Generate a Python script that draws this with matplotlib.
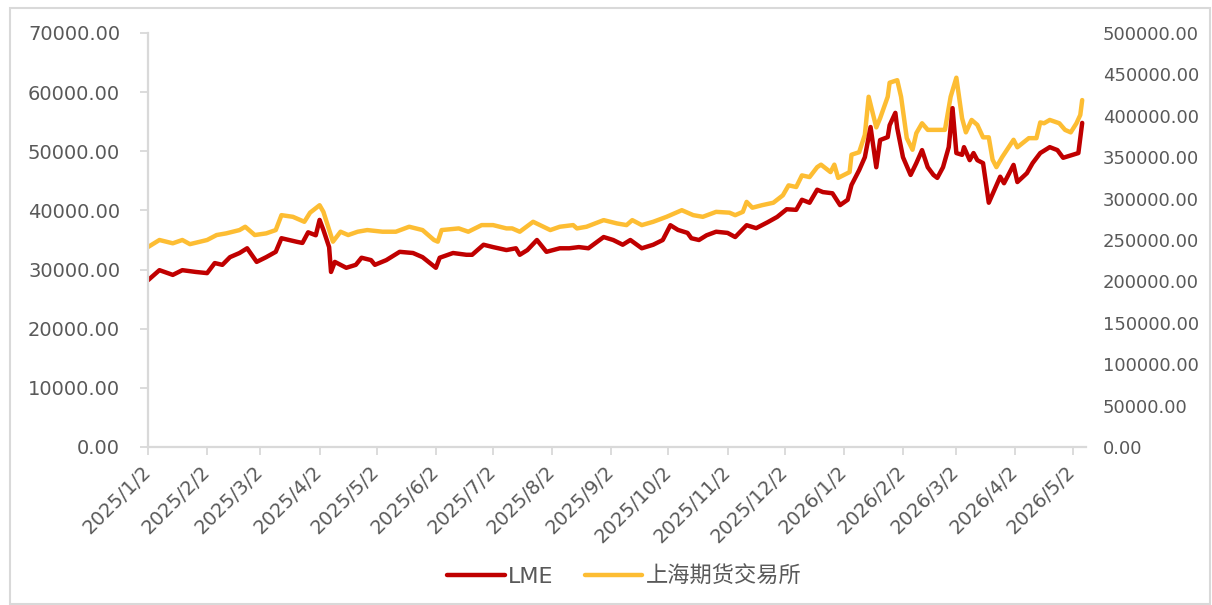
import matplotlib
matplotlib.use("Agg")
import matplotlib.pyplot as plt
import pandas as pd
from matplotlib.patches import Rectangle

# ---------------- DATA ----------------
lme_dates = ["2025-01-02","2025-01-08","2025-01-15","2025-01-20","2025-01-27","2025-02-02","2025-02-06",
    "2025-02-10","2025-02-14","2025-02-19","2025-02-23","2025-02-28","2025-03-05","2025-03-10","2025-03-13",
    "2025-03-21","2025-03-24","2025-03-27","2025-03-31","2025-04-02","2025-04-04","2025-04-07","2025-04-08",
    "2025-04-10","2025-04-16","2025-04-21","2025-04-24","2025-04-29","2025-05-01","2025-05-07","2025-05-14",
    "2025-05-21","2025-05-26","2025-06-02","2025-06-04","2025-06-11","2025-06-18","2025-06-21","2025-06-27",
    "2025-07-02","2025-07-09","2025-07-14","2025-07-16","2025-07-20","2025-07-25","2025-07-30","2025-08-06",
    "2025-08-11","2025-08-16","2025-08-21","2025-08-29","2025-09-03","2025-09-08","2025-09-12","2025-09-18",
    "2025-09-24","2025-09-29","2025-10-03","2025-10-07","2025-10-12","2025-10-14","2025-10-18","2025-10-22",
    "2025-10-27","2025-11-02","2025-11-06","2025-11-12","2025-11-17","2025-11-23","2025-11-28","2025-12-03",
    "2025-12-08","2025-12-11","2025-12-15","2025-12-19","2025-12-22","2025-12-27","2025-12-31","2026-01-04",
    "2026-01-06","2026-01-10","2026-01-13","2026-01-16","2026-01-19","2026-01-21","2026-01-25","2026-01-26",
    "2026-01-29","2026-01-30","2026-02-02","2026-02-06","2026-02-09","2026-02-12","2026-02-15","2026-02-18",
    "2026-02-20","2026-02-23","2026-02-26","2026-02-28","2026-03-02","2026-03-05","2026-03-06","2026-03-09",
    "2026-03-11","2026-03-13","2026-03-16","2026-03-19","2026-03-22","2026-03-25","2026-03-27","2026-04-01",
    "2026-04-03","2026-04-08","2026-04-11","2026-04-15","2026-04-20","2026-04-24","2026-04-27","2026-05-02",
    "2026-05-05","2026-05-07"]
lme_values = [28200,29900,29100,29900,29600,29400,31100,
    30800,32100,32800,33600,31300,32100,33000,35300,
    34700,34500,36300,35800,38400,36700,33800,29600,
    31300,30300,30800,32000,31600,30800,31600,33000,
    32800,32100,30300,32000,32800,32500,32500,34200,
    33800,33300,33600,32500,33300,35000,33000,33600,
    33600,33800,33600,35500,35000,34200,35000,33600,
    34200,35000,37500,36700,36200,35300,35000,35800,
    36400,36200,35500,37500,37000,38000,38900,40200,
    40100,41800,41300,43500,43100,42900,40900,41800,
    44300,46800,49000,54100,47300,51900,52400,54400,
    56500,53900,49000,46000,48000,50200,47300,46000,
    45500,47300,50700,57300,49700,49400,50700,48500,
    49700,48500,48000,41300,43500,45700,44600,47700,
    44800,46300,48000,49700,50700,50200,48900,49400,
    49700,54800]

shfe_dates = ["2025-01-02","2025-01-08","2025-01-15","2025-01-20","2025-01-24","2025-02-02","2025-02-07",
    "2025-02-12","2025-02-19","2025-02-22","2025-02-27","2025-03-05","2025-03-10","2025-03-13","2025-03-19",
    "2025-03-25","2025-03-28","2025-04-02","2025-04-04","2025-04-09","2025-04-13","2025-04-17","2025-04-22",
    "2025-04-27","2025-05-05","2025-05-12","2025-05-19","2025-05-26","2025-06-01","2025-06-03","2025-06-05",
    "2025-06-14","2025-06-19","2025-06-26","2025-07-02","2025-07-09","2025-07-12","2025-07-16","2025-07-23",
    "2025-08-01","2025-08-06","2025-08-13","2025-08-15","2025-08-20","2025-08-29","2025-09-05","2025-09-10",
    "2025-09-13","2025-09-18","2025-09-24","2025-10-01","2025-10-09","2025-10-15","2025-10-20","2025-10-27",
    "2025-11-03","2025-11-06","2025-11-10","2025-11-12","2025-11-15","2025-11-20","2025-11-26","2025-12-01",
    "2025-12-04","2025-12-08","2025-12-11","2025-12-15","2025-12-19","2025-12-21","2025-12-26","2025-12-28",
    "2025-12-30","2026-01-05","2026-01-06","2026-01-10","2026-01-13","2026-01-15","2026-01-19","2026-01-21",
    "2026-01-25","2026-01-26","2026-01-30","2026-02-01","2026-02-04","2026-02-07","2026-02-09","2026-02-12",
    "2026-02-15","2026-02-21","2026-02-24","2026-02-27","2026-03-02","2026-03-05","2026-03-07","2026-03-10",
    "2026-03-13","2026-03-16","2026-03-19","2026-03-21","2026-03-23","2026-03-26","2026-04-01","2026-04-03",
    "2026-04-09","2026-04-13","2026-04-15","2026-04-17","2026-04-20","2026-04-25","2026-04-28","2026-05-01",
    "2026-05-04","2026-05-06","2026-05-07"]
shfe_values = [241500,250000,246000,250000,245000,250000,256000,
    258000,262000,266000,256000,258000,262000,280000,278000,
    272000,283000,292000,284000,248000,260000,256000,260000,
    262000,260000,260000,266000,262000,250000,248000,262000,
    264000,260000,268000,268000,264000,264000,260000,272000,
    262000,266000,268000,264000,266000,274000,270000,268000,
    274000,268000,272000,278000,286000,280000,278000,284000,
    283000,280000,284000,296000,289000,292000,295000,304000,
    316000,314000,328000,326000,338000,341000,332000,341000,
    325000,332000,353000,356000,377000,423000,386000,397000,
    423000,440000,443000,423000,373000,359000,379000,391000,
    383000,383000,383000,423000,446000,397000,380000,395000,
    389000,374000,374000,347000,338000,350000,371000,362000,
    373000,373000,392000,391000,395000,391000,383000,380000,
    391000,401000,419000]

tick_dates = ["2025-01-02","2025-02-02","2025-03-02","2025-04-02","2025-05-02","2025-06-02","2025-07-02",
    "2025-08-02","2025-09-02","2025-10-02","2025-11-02","2025-12-02","2026-01-02","2026-02-02","2026-03-02",
    "2026-04-02","2026-05-02"]
tick_labels = ["2025/1/2","2025/2/2","2025/3/2","2025/4/2","2025/5/2","2025/6/2","2025/7/2","2025/8/2",
    "2025/9/2","2025/10/2","2025/11/2","2025/12/2","2026/1/2","2026/2/2","2026/3/2","2026/4/2","2026/5/2"]
left_ticks = [0, 10000, 20000, 30000, 40000, 50000, 60000, 70000]
right_ticks = [0, 50000, 100000, 150000, 200000, 250000, 300000, 350000, 400000, 450000, 500000]
series_names = ["LME", "上海期货交易所"]

# ---------------- PLOT ----------------
plt.rcParams['font.family'] = ['DejaVu Sans', 'Noto Sans CJK SC']
TXT = '#595959'
SP = '#D9D9D9'

fig = plt.figure(figsize=(12.12, 6.05), dpi=100)
ax = fig.add_axes([148/1212, 1-447/605, (1086-148)/1212, (447-33)/605])
ax2 = ax.twinx()

ld = pd.to_datetime(lme_dates)
sd = pd.to_datetime(shfe_dates)
l1, = ax.plot(ld, lme_values, color='#C00000', lw=3.2, solid_capstyle='round', solid_joinstyle='round', label=series_names[0])
l2, = ax2.plot(sd, shfe_values, color='#FDBD33', lw=3.2, solid_capstyle='round', solid_joinstyle='round', label=series_names[1])

ax.set_zorder(ax2.get_zorder() + 1)
ax.patch.set_visible(False)

ax.set_ylim(0, 70000)
ax2.set_ylim(0, 500000)
ax.set_xlim(pd.Timestamp("2025-01-02"), pd.Timestamp("2026-05-09"))

ax.set_yticks(left_ticks)
ax.set_yticklabels([f"{v:.2f}" for v in left_ticks])
ax2.set_yticks(right_ticks)
ax2.set_yticklabels([f"{v:.2f}" for v in right_ticks])

ax.set_xticks(pd.to_datetime(tick_dates))
ax.set_xticklabels(tick_labels, rotation=45, ha='right', va='center', rotation_mode='anchor')

for a in (ax, ax2):
    for s in a.spines.values():
        s.set_visible(False)
ax.spines['left'].set_visible(True)
ax.spines['bottom'].set_visible(True)
ax.spines['left'].set_color(SP)
ax.spines['bottom'].set_color(SP)
ax.spines['left'].set_linewidth(1.6)
ax.spines['bottom'].set_linewidth(1.6)

ax.tick_params(axis='y', direction='out', length=6, width=1.3, color=SP, labelcolor=TXT, labelsize=14, pad=14)
ax.tick_params(axis='x', direction='out', length=6, width=1.3, color=SP, labelcolor=TXT, labelsize=14, pad=10)
ax2.tick_params(axis='y', length=0, labelcolor=TXT, labelsize=13, pad=12)

leg = fig.legend(handles=[l1, l2], loc='center', bbox_to_anchor=(0.515, 0.047), ncol=2, frameon=False,
                 fontsize=16, handlelength=2.6, handletextpad=0.15, columnspacing=1.4, labelcolor=TXT)

fig.patches.append(Rectangle((10/1212, 1/605), 1200/1212, 596/605, transform=fig.transFigure,
                             fill=False, edgecolor=SP, lw=1.5))

fig.savefig("out.png", dpi=100)
